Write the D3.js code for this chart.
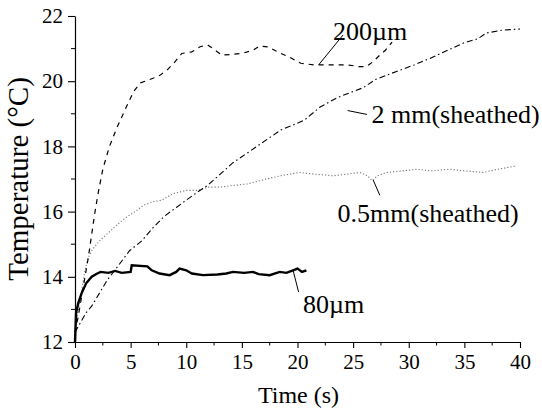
<!doctype html>
<html lang="en">
<head>
    <meta charset="utf-8">
    <script src="https://d3js.org/d3.v7.min.js"></script>
    <title>Temperature vs time</title>
    <style>
        body { margin: 0; background: #fff; }
        svg text { font-family: "Liberation Serif", serif; fill: #000; }
    </style>
</head>
<body>
    <svg id="svg" width="542" height="409"></svg>

    <script>
        // series data: time (s) and temperature (°C)
        const t200um = [0, 0.3, 0.6, 0.9, 1.2, 1.5, 1.8, 2.1, 2.5, 3.1, 3.8, 4.6, 5.3, 5.9, 6.7, 7.5, 8.3, 9.0, 9.6, 10.5, 11.2, 11.9, 12.6, 13.2, 14.0, 15.0, 16.0, 16.6, 17.4, 18.2, 19.2, 20.3, 21.5, 23.0, 24.5, 25.5, 26.2, 26.8, 27.4, 27.9, 28.5];
        const T200um = [12.3, 12.8, 13.4, 14.0, 14.6, 15.3, 16.0, 16.6, 17.3, 18.0, 18.6, 19.2, 19.7, 19.95, 20.05, 20.15, 20.35, 20.6, 20.85, 20.9, 21.05, 21.12, 20.95, 20.8, 20.82, 20.85, 20.95, 21.08, 21.05, 20.9, 20.75, 20.55, 20.5, 20.5, 20.5, 20.45, 20.45, 20.6, 20.8, 20.95, 21.2];

        const t2mm = [0, 0.5, 1.0, 1.5, 2.2, 2.9, 3.8, 4.9, 6.0, 7.0, 8.0, 9.2, 10.0, 11.0, 11.9, 12.9, 14.2, 15.5, 17.2, 18.5, 20.6, 22.0, 23.6, 25.9, 27.0, 28.9, 30.5, 31.9, 33.5, 34.9, 36.2, 37.0, 38.5, 40.0];
        const T2mm = [12.3, 12.6, 12.9, 13.1, 13.5, 13.9, 14.3, 14.8, 15.1, 15.5, 15.85, 16.15, 16.35, 16.6, 16.8, 17.1, 17.5, 17.8, 18.2, 18.5, 18.8, 19.2, 19.5, 19.8, 20.05, 20.3, 20.5, 20.7, 20.95, 21.17, 21.3, 21.48, 21.57, 21.6];

        const t05mm = [0, 0.3, 0.6, 0.9, 1.2, 1.6, 2.2, 3.0, 3.8, 4.5, 5.4, 6.2, 7.0, 7.8, 8.8, 10.0, 11.0, 12.0, 13.0, 14.2, 15.5, 17.2, 18.5, 20.2, 21.5, 23.2, 24.5, 25.6, 26.3, 26.7, 27.2, 28.0, 29.5, 30.7, 32.0, 33.7, 35.0, 36.7, 38.0, 39.7];
        const T05mm = [12.4, 13.0, 13.6, 14.2, 14.6, 14.85, 15.1, 15.35, 15.6, 15.8, 16.0, 16.2, 16.3, 16.35, 16.55, 16.65, 16.65, 16.75, 16.75, 16.8, 16.85, 17.0, 17.1, 17.2, 17.15, 17.1, 17.15, 17.2, 17.1, 16.95, 17.1, 17.2, 17.25, 17.3, 17.25, 17.3, 17.25, 17.2, 17.3, 17.4];

        const t80um = [0, 0.1, 0.3, 0.6, 1.0, 1.5, 2.0, 2.3, 3.0, 3.6, 4.2, 5.0, 5.1, 6.5, 6.9, 7.6, 8.5, 9.1, 9.4, 10.0, 10.5, 11.5, 12.8, 13.6, 14.2, 15.2, 16.0, 16.5, 17.5, 18.4, 19.0, 19.6, 20.0, 20.4, 20.8];
        const T80um = [12.0, 12.9, 13.2, 13.5, 13.8, 14.0, 14.1, 14.15, 14.12, 14.18, 14.12, 14.15, 14.35, 14.32, 14.2, 14.1, 14.05, 14.15, 14.25, 14.2, 14.1, 14.05, 14.07, 14.1, 14.15, 14.12, 14.15, 14.08, 14.05, 14.15, 14.12, 14.2, 14.25, 14.15, 14.2];

        const xTicks = [0, 5, 10, 15, 20, 25, 30, 35, 40];
        const yTicks = [12, 14, 16, 18, 20, 22];

        // label text, the point it sits at (s, °C) and the leader line ends (s, °C)
        const labelNames = ["200\u00b5m", "2 mm(sheathed)", "0.5mm(sheathed)", "80\u00b5m"];
        const labelAt = [[23.2, 21.26], [26.65, 18.72], [23.6, 15.68], [20.5, 12.89]];
        const leaderFrom = [[24.1, 21.42], [24.5, 19.1], [26.8, 16.97], [19.6, 14.2]];
        const leaderTo = [[21.9, 20.5], [26.25, 18.98], [27.4, 16.5], [20.1, 13.53]];

        let svg, container, xAxis, yAxis;
        let xScale, yScale;
        let margin = { top: 16, right: 22, bottom: 67, left: 75 };
        let width = 542, height = 409;
        let serif = "'Liberation Serif', serif";

        function initialize() {
            svg = d3.select("#svg");
            container = svg.append("g");
            xAxis = svg.append("g");
            yAxis = svg.append("g");

            xScale = d3.scaleLinear().domain([0, 40]).range([margin.left, width - margin.right]);
            yScale = d3.scaleLinear().domain([12, 22]).range([height - margin.bottom, margin.top]);
        }

        function drawAxes() {
            xAxis.attr("transform", `translate(0, ${yScale(12)})`)
                .call(d3.axisBottom(xScale).tickValues(xTicks).tickSize(6).tickPadding(6).tickSizeOuter(0));
            yAxis.attr("transform", `translate(${xScale(0)}, 0)`)
                .call(d3.axisLeft(yScale).tickValues(yTicks).tickSize(7).tickPadding(5).tickSizeOuter(0));

            xAxis.attr("font-family", serif);
            yAxis.attr("font-family", serif);

            // minor ticks
            xAxis.selectAll(".minor")
                .data(d3.range(2.5, 40, 5))
                .join("line")
                .attr("class", "minor")
                .attr("x1", d => xScale(d)).attr("x2", d => xScale(d))
                .attr("y1", 0).attr("y2", 3.5)
                .attr("stroke", "#000");
            yAxis.selectAll(".minor")
                .data(d3.range(13, 22, 2))
                .join("line")
                .attr("class", "minor")
                .attr("y1", d => yScale(d)).attr("y2", d => yScale(d))
                .attr("x1", 0).attr("x2", -4)
                .attr("stroke", "#000");

            svg.selectAll(".domain").attr("stroke", "#000").attr("stroke-width", 1.2);
            svg.selectAll(".tick line").attr("stroke", "#000").attr("stroke-width", 1.1);
            svg.selectAll(".tick text")
                .attr("font-size", "21px")
                .attr("font-family", serif)
                .attr("fill", "#000");

            svg.append("text")
                .attr("x", (xScale(0) + xScale(40)) / 2 + 1)
                .attr("y", 403)
                .attr("text-anchor", "middle")
                .attr("font-size", "24px")
                .attr("font-family", serif)
                .text("Time (s)");

            svg.append("text")
                .attr("transform", `translate(28, ${(yScale(12) + yScale(22)) / 2}) rotate(-90)`)
                .attr("text-anchor", "middle")
                .attr("font-size", "29px")
                .attr("font-family", serif)
                .text("Temperature (\u00b0C)");
        }

        function drawSeries() {
            let line = d3.line().x(d => xScale(d[0])).y(d => yScale(d[1]));
            let series = [
                { t: t05mm, T: T05mm, stroke: "#777", width: 1.1, dash: "1.2,2" },
                { t: t2mm, T: T2mm, stroke: "#000", width: 1.1, dash: "6,3,1.5,3" },
                { t: t200um, T: T200um, stroke: "#000", width: 1.2, dash: "5,5" },
                { t: t80um, T: T80um, stroke: "#000", width: 2.4, dash: null }
            ];

            container.selectAll("path")
                .data(series)
                .join("path")
                .attr("d", s => line(s.t.map((d, i) => [d, s.T[i]])))
                .attr("fill", "none")
                .attr("stroke", s => s.stroke)
                .attr("stroke-width", s => s.width)
                .attr("stroke-dasharray", s => s.dash);

            container.selectAll(".leader")
                .data(labelNames)
                .join("line")
                .attr("class", "leader")
                .attr("x1", (d, i) => xScale(leaderFrom[i][0]))
                .attr("y1", (d, i) => yScale(leaderFrom[i][1]))
                .attr("x2", (d, i) => xScale(leaderTo[i][0]))
                .attr("y2", (d, i) => yScale(leaderTo[i][1]))
                .attr("stroke", "#000")
                .attr("stroke-width", 1);

            container.selectAll(".label")
                .data(labelNames)
                .join("text")
                .attr("class", "label")
                .attr("x", (d, i) => xScale(labelAt[i][0]))
                .attr("y", (d, i) => yScale(labelAt[i][1]))
                .attr("font-size", "26px")
                .attr("font-family", serif)
                .text(d => d);
        }

        initialize();
        drawAxes();
        drawSeries();
    </script>
</body>
</html>
